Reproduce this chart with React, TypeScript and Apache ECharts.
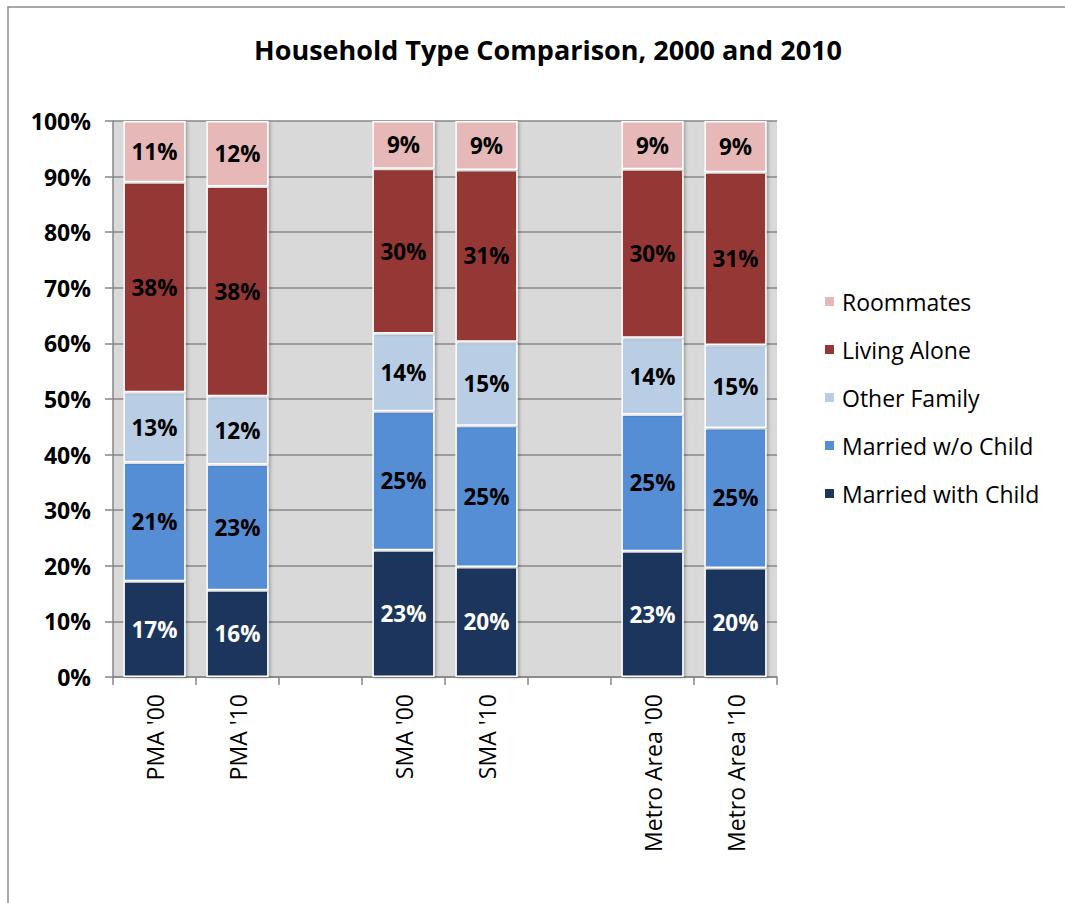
import React, { useEffect, useRef } from "react";
import * as echarts from "echarts";

const categories = ["PMA '00", "PMA '10", "", "SMA '00", "SMA '10", "", "Metro Area '00", "Metro Area '10"];
const marriedWithChild = [17.2, 15.6, null, 22.8, 19.8, null, 22.6, 19.6];
const marriedNoChild = [21.4, 22.6, null, 25.0, 25.4, null, 24.6, 25.2];
const otherFamily = [12.6, 12.3, null, 14.0, 15.1, null, 13.8, 14.9];
const livingAlone = [37.8, 37.7, null, 29.6, 30.9, null, 30.3, 31.1];
const roommates = [11.0, 11.8, null, 8.6, 8.8, null, 8.7, 9.2];
const yTicks = [0, 10, 20, 30, 40, 50, 60, 70, 80, 90, 100];

const FONT = "'Open Sans', 'Liberation Sans', sans-serif";

export default function App() {
  const ref = useRef<HTMLDivElement>(null);
  useEffect(() => {
    document.body.style.margin = "0";
    const chart = echarts.init(ref.current!, null, { renderer: "svg" });
    const mk = (name: string, data: (number | null)[], color: string, labelColor: string) => ({
      name,
      type: "bar",
      stack: "total",
      barCategoryGap: "25%",
      data: data.map((v) => (v === null ? "-" : v)),
      itemStyle: {
        color,
        borderColor: "#ffffff",
        borderWidth: 1.5,
        shadowColor: "rgba(0,0,0,0.25)",
        shadowBlur: 3,
        shadowOffsetX: 2,
        shadowOffsetY: 1,
      },
      label: {
        show: true,
        position: "inside",
        formatter: (p: any) => (typeof p.value === "number" ? Math.round(p.value) + "%" : ""),
        color: labelColor,
        fontFamily: FONT,
        fontWeight: "bold",
        fontSize: 22.5,
      },
    });
    chart.setOption({
      animation: false,
      backgroundColor: "#ffffff",
      title: {
        text: "Household Type Comparison, 2000 and 2010",
        left: 543,
        textAlign: "center",
        top: 31,
        textStyle: { fontFamily: FONT, fontWeight: "bold", fontSize: 27, color: "#000" },
      },
      graphic: [
        {
          type: "rect",
          shape: { x: 8, y: 7, width: 1200, height: 1000 },
          style: { fill: "none", stroke: "#8a8a8a", lineWidth: 1.5 },
          silent: true,
          z: 100,
        },
      ],
      legend: {
        orient: "vertical",
        left: 818,
        top: 285,
        itemWidth: 11,
        itemHeight: 11,
        itemGap: 25,
        icon: "rect",
        data: ["Roommates", "Living Alone", "Other Family", "Married w/o Child", "Married with Child"],
        textStyle: { fontFamily: FONT, fontSize: 23, color: "#000", padding: [0, 0, 0, 2] },
      },
      grid: { left: 113, right: 288, top: 121, bottom: 226, backgroundColor: "#d9d9d9", show: true, borderWidth: 0 },
      xAxis: {
        type: "category",
        data: categories,
        axisLine: { lineStyle: { color: "#868686", width: 1.5 } },
        axisTick: { show: true, length: 8, lineStyle: { color: "#868686", width: 1.5 } },
        axisLabel: {
          rotate: 90,
          margin: 17,
          interval: 0,
          fontFamily: FONT,
          fontSize: 23,
          color: "#000",
        },
      },
      yAxis: {
        type: "value",
        min: 0,
        max: 100,
        interval: 10,
        axisLine: { show: true, lineStyle: { color: "#868686", width: 1.5 } },
        axisTick: { show: true, length: 8, lineStyle: { color: "#868686", width: 1.5 } },
        splitLine: { lineStyle: { color: "#878787", width: 1.5 } },
        axisLabel: {
          margin: 22,
          formatter: (v: number) => (yTicks.includes(v) ? v + "%" : ""),
          fontFamily: FONT,
          fontWeight: "bold",
          fontSize: 23,
          color: "#000",
        },
      },
      series: [
        mk("Married with Child", marriedWithChild, "#1a365d", "#ffffff"),
        mk("Married w/o Child", marriedNoChild, "#558ed5", "#000000"),
        mk("Other Family", otherFamily, "#b9cde5", "#000000"),
        mk("Living Alone", livingAlone, "#953735", "#000000"),
        mk("Roommates", roommates, "#e6b9b8", "#000000"),
      ],
    });
    return () => chart.dispose();
  }, []);
  return <div ref={ref} style={{ width: 1065, height: 903 }} />;
}
